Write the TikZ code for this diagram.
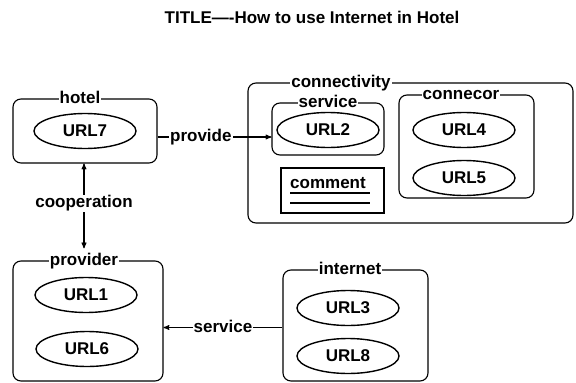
\documentclass[tikz,border=0pt]{standalone}
\usepackage{fontspec}
\setmainfont{Liberation Sans}
\usetikzlibrary{arrows, positioning, shapes.geometric}

\begin{document}
\begin{tikzpicture}[x=1pt, y=-1pt]
  \tikzstyle{every node} = [font=\fontsize{17}{20}\selectfont\bfseries];
  \tikzstyle{box} = [draw, line width=1.1pt, rounded corners=8pt, inner sep=0pt];
  \tikzstyle{url} = [draw, ellipse, line width=1.4pt, minimum width=102pt, minimum height=35pt, inner sep=0pt];
  \tikzstyle{tag} = [fill=white, inner sep=1pt, text height=12pt, text depth=3pt];
  \tikzstyle{link} = [line width=1.1pt, >=stealth'];

  \useasboundingbox (0,0) rectangle (576,383);

  \node (title) at (312,17) {TITLE---{}-How to use Internet in Hotel};

  % hotel
  \node[box, minimum width=144pt, minimum height=64pt] (hotelbox) at (85,131) {};
  \node[tag] (hotellbl) at (80,99) {hotel};
  \node[url] (url7) at (85,131) {URL7};

  % connectivity
  \node[box, minimum width=325pt, minimum height=140pt] (connbox) at (410.5,153) {};
  \node[tag] (connlbl) at (341,83) {connectivity};
  \node[box, minimum width=112pt, minimum height=52pt] (svcbox) at (328,129) {};
  \node[tag] (svclbl) at (328,103) {service};
  \node[url] (url2) at (328,130) {URL2};
  \node[box, minimum width=135pt, minimum height=103pt] (cnrbox) at (466.5,146.5) {};
  \node[tag] (cnrlbl) at (461,95) {connecor};
  \node[url] (url4) at (464,130) {URL4};
  \node[url] (url5) at (464,178) {URL5};
  \node[draw, line width=1.1pt, minimum width=103pt, minimum height=45pt] (cmtbox) at (332.5,190.5) {};
  \node (cmt) at (328,183) {comment};
  \draw[line width=1.1pt] (290,193) -- (370,193);
  \draw[line width=1.5pt] (290,203) -- (370,203);

  % provider
  \node[box, minimum width=150pt, minimum height=120pt] (provbox) at (88,321) {};
  \node[tag] (provlbl) at (84,261) {provider};
  \node[url] (url1) at (86,295) {URL1};
  \node[url] (url6) at (87,349) {URL6};

  % internet
  \node[box, minimum width=145pt, minimum height=111pt] (intbox) at (355.5,325.5) {};
  \node[tag] (intlbl) at (350,270) {internet};
  \node[url] (url3) at (348,308) {URL3};
  \node[url] (url8) at (348,356) {URL8};

  \draw[link, ->] ([yshift=-6pt]hotelbox.east) -- node[tag, pos=0.38] {provide} ([yshift=-8pt]svcbox.west);
  \draw[link, <->] (hotelbox.south -| provlbl.north) -- node[tag, pos=0.47] {cooperation} ([yshift=4pt]provlbl.north);
  \draw[link, ->] ([yshift=-2pt]intbox.west) -- node[tag] {service} ([yshift=-2pt]intbox.west -| provbox.east);
\end{tikzpicture}
\end{document}
